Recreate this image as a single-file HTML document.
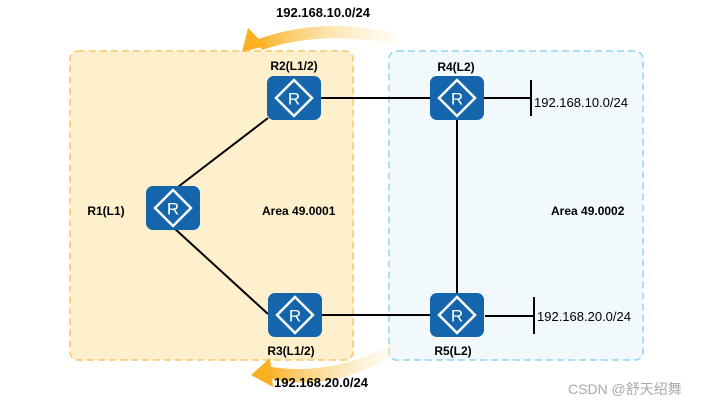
<!DOCTYPE html>
<html><head><style>
body{margin:0;background:#fff;}
svg{display:block;font-family:"Liberation Sans",sans-serif;}
</style></head><body>
<svg width="721" height="408" viewBox="0 0 721 408" xmlns="http://www.w3.org/2000/svg">
<defs>
<linearGradient id="g1" x1="1" y1="0" x2="0" y2="0"><stop offset="0" stop-color="#fff3d6" stop-opacity="0.3"/><stop offset="1" stop-color="#f9b021"/></linearGradient>
<g id="rt">
<rect x="0" y="0" width="54" height="44" rx="7" fill="#1565ad"/>
<path d="M27 4 L45 22 L27 40 L9 22 Z" fill="none" stroke="#fff" stroke-width="2.5"/>
<text x="27" y="28.5" text-anchor="middle" font-size="17" fill="#fff">R</text>
</g>
</defs>
<rect x="70" y="51" width="283" height="309" rx="8" fill="#fff0cd" stroke="#fbc56a" stroke-width="1.5" stroke-dasharray="7,4"/>
<rect x="389" y="51" width="254" height="309" rx="8" fill="#f2f9fd" stroke="#8fd6f2" stroke-width="1.5" stroke-dasharray="7,4"/>
<path d="M395 33 Q320 16 256 40 L262 50 Q320 30 395 44 Z" fill="url(#g1)"/>
<path d="M242 52 L248 28 L266 46 Z" fill="#f9b021"/>
<path d="M395 343 Q330 378 266 366 L268 378 Q330 394 395 354 Z" fill="url(#g1)"/>
<path d="M251 375 L270 358 L273 387 Z" fill="#f9b021"/>
<g stroke="#000" stroke-width="2">
<line x1="174" y1="190" x2="268" y2="118"/>
<line x1="174" y1="228" x2="268" y2="314"/>
<line x1="321" y1="98" x2="431" y2="98"/>
<line x1="322" y1="315" x2="431" y2="315"/>
<line x1="457" y1="120" x2="457" y2="293"/>
<line x1="484" y1="98" x2="531" y2="98"/>
<line x1="531" y1="80" x2="531" y2="116"/>
<line x1="485" y1="316" x2="534" y2="316"/>
<line x1="534" y1="297" x2="534" y2="334"/>
</g>
<use href="#rt" x="267" y="76"/>
<use href="#rt" x="146" y="186"/>
<use href="#rt" x="430" y="76"/>
<use href="#rt" x="268" y="293"/>
<use href="#rt" x="430" y="293"/>
<g font-size="12" font-weight="bold" fill="#000">
<text x="294" y="70" text-anchor="middle">R2(L1/2)</text>
<text x="456" y="71" text-anchor="middle">R4(L2)</text>
<text x="106" y="215" text-anchor="middle">R1(L1)</text>
<text x="291" y="355" text-anchor="middle">R3(L1/2)</text>
<text x="453" y="355" text-anchor="middle">R5(L2)</text>
<text x="262" y="215">Area 49.0001</text>
<text x="551" y="215">Area 49.0002</text>
<text x="276" y="17" font-size="13">192.168.10.0/24</text>
<text x="274" y="387" font-size="13">192.168.20.0/24</text>
</g>
<g font-size="13" fill="#000">
<text x="534" y="107">192.168.10.0/24</text>
<text x="537" y="321">192.168.20.0/24</text>
</g>
<text x="568" y="394" font-size="14" fill="#aaa" font-family="Liberation Sans,'Noto Sans CJK SC',sans-serif">CSDN @舒天绍舞</text>
</svg>
</body></html>
